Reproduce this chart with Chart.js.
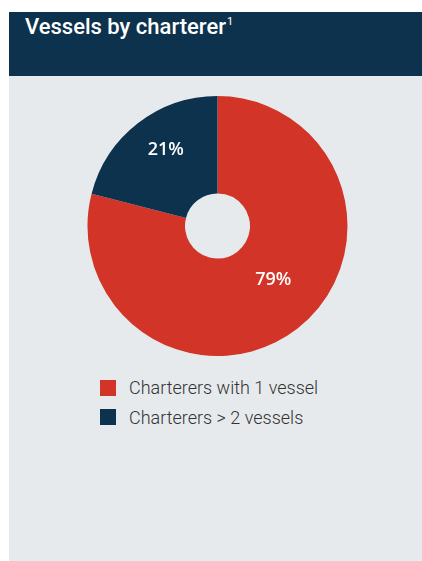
<!DOCTYPE html>
<html>
<head>
<meta charset="utf-8">
<script src="https://cdn.jsdelivr.net/npm/chart.js@4"></script>
<style>
  body { margin: 0; background: #fff; width: 422px; height: 561px; overflow: hidden; position: relative; }
  .card { position: absolute; left: 9px; top: 12px; width: 413px; height: 549px; background: #e7eaed; }
  .head { position: absolute; left: 0; top: 0; width: 413px; height: 64px; background: #0d324d; }
  .head h1 { margin: 0; position: absolute; left: 16px; top: 2px; font: 500 22px Roboto, sans-serif; color: #fff; letter-spacing: 0; }
  .head h1 sup { font-size: 11px; font-weight: 400; margin-left: 1px; position: relative; top: -1px; }
  .pie { position: absolute; left: 78px; top: 84px; width: 261px; height: 260px; }
  .legend { position: absolute; left: 91px; top: 361px; font: 300 18px Roboto, sans-serif; color: #333; }
  .legend div { display: flex; align-items: center; height: 29.5px; }
  .legend span { display: inline-block; width: 16px; height: 16px; margin-right: 13px; }
</style>
</head>
<body>
<div class="card">
  <div class="head"><h1>Vessels by charterer<sup>1</sup></h1></div>
  <div class="pie"><canvas id="myChart"></canvas></div>
  <div class="legend" id="legend"></div>
</div>
<script>
// share of vessels by charterer type, percent
let categories = ["Charterers with 1 vessel", "Charterers > 2 vessels"];
let shares = [79, 21];
let colors = ["#d23427", "#0d324d"];

// white percentage text inside each slice
let sliceLabels = {
  id: "sliceLabels",
  afterDatasetsDraw(chart, args, opts) {
    let ctx = chart.ctx;
    let meta = chart.getDatasetMeta(0);
    ctx.save();
    ctx.fillStyle = "#fff";
    ctx.font = "600 18px 'Open Sans'";
    ctx.textAlign = "center";
    ctx.textBaseline = "middle";
    meta.data.forEach((arc, i) => {
      let p = arc.getCenterPoint();
      let off = opts.offsets[i] || [0, 0];
      ctx.fillText(chart.data.datasets[0].data[i] + "%", p.x + off[0], p.y + off[1]);
    });
    ctx.restore();
  },
};

let mychart = document.getElementById("myChart").getContext("2d");
let pieChart = new Chart(mychart, {
  type: "doughnut",
  data: {
    labels: categories,
    datasets: [
      {
        data: shares,
        backgroundColor: colors,
        borderWidth: 0,
        hoverOffset: 0,
      },
    ],
  },
  options: {
    responsive: true,
    maintainAspectRatio: false,
    animation: false,
    cutout: "25%",
    layout: { padding: 0 },
    plugins: {
      legend: { display: false },
      tooltip: { enabled: false },
      sliceLabels: { offsets: [[6, -10], [-2, -12]] },
    },
  },
  plugins: [sliceLabels],
});

// legend built from the same arrays
let legendEl = document.getElementById("legend");
legendEl.innerHTML = categories
  .map((c, i) => `<div><span style="background:${colors[i]}"></span>${c}</div>`)
  .join("");
</script>
</body>
</html>
